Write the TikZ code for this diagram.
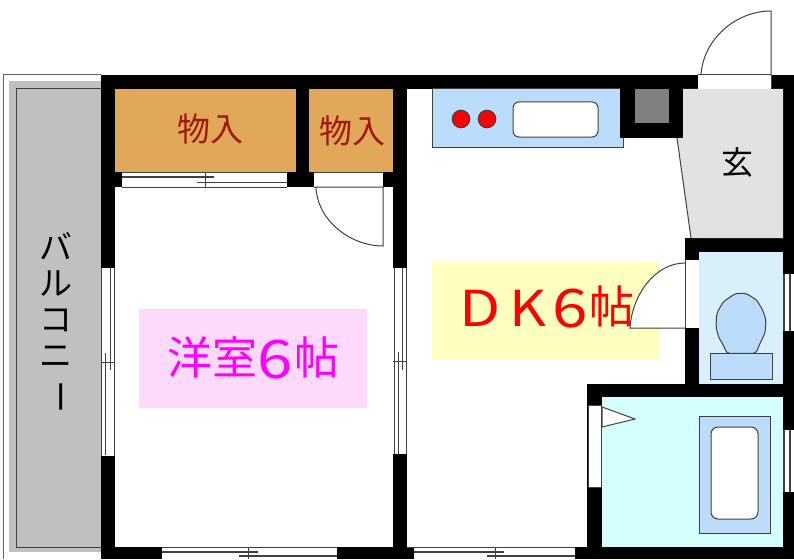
\documentclass[tikz,border=0pt]{standalone}
\usepackage{graphicx}
\usepackage{fontspec}
\setmainfont{Noto Sans CJK JP}
\definecolor{lineg}{HTML}{404040}
\definecolor{frameg}{HTML}{606060}
\definecolor{closet}{HTML}{E2A859}
\definecolor{closettxt}{HTML}{A01808}
\definecolor{counter}{HTML}{BBDDFB}
\definecolor{hall}{HTML}{E2E2E2}
\definecolor{wcroom}{HTML}{D9F0FB}
\definecolor{bathroom}{HTML}{D5FFFF}
\definecolor{pinkbg}{HTML}{FDD9FC}
\definecolor{yellowbg}{HTML}{FFFFC0}
\definecolor{balc}{HTML}{C0C0C0}
\definecolor{purered}{HTML}{FF0000}
\definecolor{puremag}{HTML}{FF00FF}
\definecolor{flue}{HTML}{808080}
\newcommand{\bigsix}{\raisebox{-4pt}{\scalebox{1.42}[1.18]{6}}}
\tikzset{
  wall/.style={fill=black,draw=none},
  fix/.style={draw=lineg,line width=1pt},
  gap/.style={fill=white,draw=none},
  lab/.style={inner sep=0pt,font=\fontsize{#1}{#1}\selectfont},
}
\begin{document}
\begin{tikzpicture}[x=1pt,y=-1pt]
\useasboundingbox (0,0) rectangle (794,559);
\fill[white] (0,0) rectangle (794,559);
% balcony
\draw[draw=frameg,line width=1pt] (3,559) -- (3,75) -- (101,75);
\fill[balc] (9,81) rectangle (101,552);
\draw[fix,line width=1.1pt] (101,88.5) -- (16.5,88.5) -- (16.5,547.5) -- (101,547.5);
% walls
\fill[wall] (100.5,75) rectangle (794,89);
\fill[wall] (100.5,75) rectangle (115,559);
\fill[wall] (393,75) rectangle (407,559);
\fill[wall] (100.5,547) rectangle (794,559);
\fill[wall] (115,172) rectangle (393,187);
\fill[wall] (296,89) rectangle (309,187);
\fill[wall] (783,75) rectangle (794,559);
\fill[wall] (620,89) rectangle (683,138);
\fill[wall] (685,238) rectangle (794,252);
\fill[wall] (685,238) rectangle (699,397);
\fill[wall] (587,384) rectangle (794,397);
\fill[wall] (587,384) rectangle (602,559);
% rooms
\fill[closet] (115,89) rectangle (296,172);
\fill[closet] (309,89) rectangle (393,172);
\fill[hall] (683,89) -- (783,89) -- (783,238) -- (691,238) -- (677,138) -- (683,138) -- cycle;
\draw[fix] (677,138) -- (691,238);
\fill[wcroom] (699,252) rectangle (783,384);
\fill[bathroom] (602,397) rectangle (783,547);
\fill[pinkbg] (139,309) rectangle (367,408);
\fill[yellowbg] (432,261) rectangle (660,360);
% kitchen
\draw[fix,fill=counter] (623,138) -- (623,147) -- (432,147) -- (432,89) -- (620,89);
\fill[black] (620,89) rectangle (683,138);
\fill[flue] (634.5,89) rectangle (668.5,123);
\draw[fix,fill=purered] (461,119) circle (8.8);
\draw[fix,fill=purered] (487,119) circle (8.8);
\draw[fix,fill=white,rounded corners=6pt] (513,102) rectangle (598,137);
% gaps
\fill[gap] (100.5,268) rectangle (115,456);
\fill[gap] (393,268) rectangle (407,454);
\fill[gap] (122,172.5) rectangle (287,187);
\fill[gap] (314,172.5) rectangle (383,187);
\fill[gap] (162,547.5) rectangle (337,559);
\fill[gap] (414,547.5) rectangle (575,559);
\fill[gap] (698,75.5) rectangle (771,89);
\fill[gap] (685.5,260) rectangle (699,328);
\fill[gap] (587.5,405) rectangle (602,487);
\fill[gap] (783.5,274) rectangle (794,331);
\fill[gap] (783.5,430) rectangle (794,492);
% left window
\draw[fix] (101,268) -- (101,456) (114.5,268) -- (114.5,456);
\draw[fix] (105,353) -- (105,455) (110,268) -- (110,370);
\draw[fix] (100.5,362) -- (115,362);
% centre window
\draw[fix] (394,268) -- (394,454) (406,268) -- (406,454);
\draw[fix] (398,352) -- (398,454) (402,268) -- (402,370);
\draw[fix] (393,361) -- (407,361);
% closet slider
\draw[fix] (122,172.5) -- (287,172.5) (122,187) -- (287,187);
\draw[fix,line width=1.4pt] (122,177) -- (214,177);
\draw[fix,line width=1.4pt] (197,182.5) -- (287,182.5);
\draw[fix] (205,172) -- (205,187);
% closet door
\draw[fix] (314,172.5) -- (383,172.5) (314,187) -- (383,187);
\draw[fix,fill=white] (316,187) .. controls (317,220) and (350,246) .. (383,246) -- (383,187) -- cycle;
% bottom windows
\draw[fix] (162,547.5) -- (337,547.5);
\draw[fix,line width=1.4pt] (162,552) -- (258,552);
\draw[fix,line width=1.4pt] (239,556) -- (337,556);
\draw[fix] (248,547) -- (248,559);
\draw[fix] (407,547.5) -- (575,547.5);
\draw[fix,line width=1.4pt] (414,552) -- (504,552);
\draw[fix,line width=1.4pt] (487,556) -- (575,556);
\draw[fix] (495,547) -- (495,559);
% entry door
\draw[fix,fill=white] (701,75) .. controls (703,40) and (735,11) .. (771,11) -- (771,75);
\draw[fix] (698,75) -- (771,75);
\draw[fix] (771,75) -- (771,88);
% DK door
\draw[fix,fill=white] (685,263) .. controls (655,263) and (632,295) .. (630,328) -- (685,328);
\draw[fix] (685.5,260) -- (685.5,328);
% bath door
\draw[fix] (587.5,405) -- (602,405) (587.5,487) -- (602,487);
\draw[fix,draw=lineg] (588,405) -- (588,487);
\draw[fix] (601.5,405) -- (601.5,487);
\draw[fix,fill=white] (602,407) -- (635,419) -- (602,427) -- cycle;
% right windows
\draw[line width=1.2pt,draw=lineg] (784,274) -- (784,331) (790,274) -- (790,331);
\draw[line width=1.2pt,draw=lineg] (784,430) -- (784,492) (790,430) -- (790,492);
% toilet
\draw[fix,fill=counter,rounded corners=3pt] (735.7,293.3) -- (746,293.3) -- (756.7,300) -- (762.7,310) -- (766,320) -- (765,333.3) -- (760,343.3) -- (756,353.3) -- (726.7,353.3) -- (723.3,345) -- (718.3,336.7) -- (716,326.7) -- (716.7,313.3) -- (723.3,301.7) -- cycle;
\draw[fix,fill=counter] (710,353.5) rectangle (772.5,379);
% tub
\draw[fix,fill=counter] (699,416) rectangle (770,533);
\draw[fix,fill=white,rounded corners=7pt] (711,427) rectangle (758,519);
% labels
\node[lab=33,text=closettxt] (c1) at (210.5,129) {物入};
\node[lab=33,text=closettxt] (c2) at (352.5,131) {物入};
\node[lab=32,text=black] (entry) at (737.5,162) {玄};
\node[lab=45,text=purered] (dk) at (547,307) {\raisebox{-3pt}{\scalebox{1.33}[1.1]{D}}\hspace{9pt}\raisebox{-3pt}{\scalebox{1.27}[1.1]{K}}\hspace{6pt}\bigsix\hspace{1pt}帖};
\node[lab=45,text=puremag] (yo) at (253.5,358) {洋室\bigsix\hspace{2pt}帖};
\node[inner sep=0pt,align=center,font=\fontsize{33}{36}\selectfont] (bal) at (56,323) {バ\\ル\\コ\\ニ\\\rotatebox[origin=c]{-90}{ー}};
\end{tikzpicture}
\end{document}
